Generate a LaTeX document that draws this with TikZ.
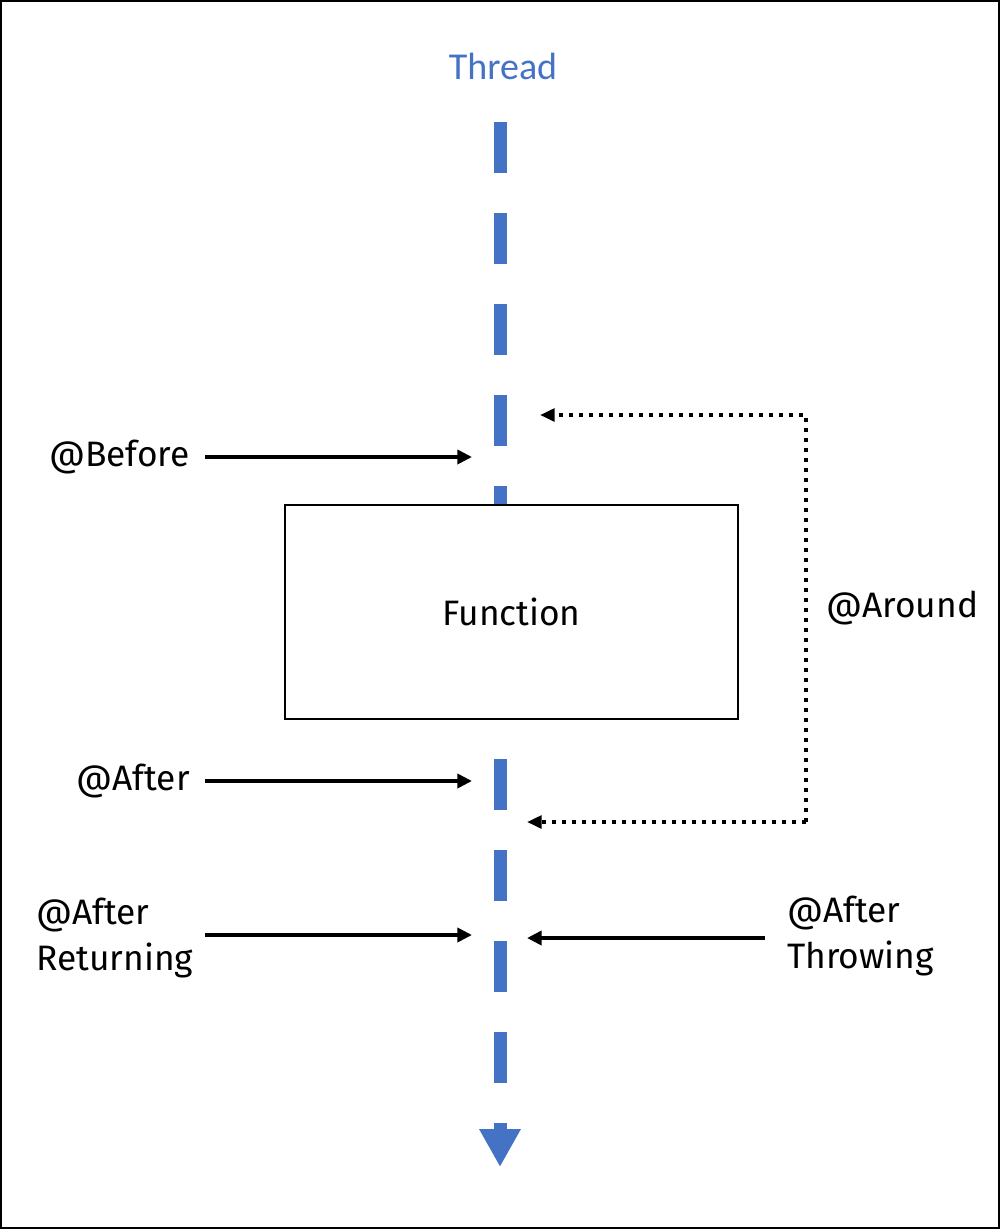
\documentclass[tikz,border=0pt]{standalone}
\usepackage{fontspec}
\setmainfont{Fira Sans}
\newfontfamily\threadfont{Carlito}
\usepackage{xcolor}
\usetikzlibrary{arrows.meta,positioning}
\definecolor{threadblue}{HTML}{4472C4}

\begin{document}
\begin{tikzpicture}[
  x=0.75pt, y=-0.75pt,
  lbl/.style={font=\fontsize{26.5}{34}\selectfont, inner sep=0pt, align=left},
  fn/.style={draw=black, line width=1.5pt, fill=white, minimum width=340pt,
             minimum height=160pt, font=\fontsize{26.5}{30}\selectfont},
  thr/.style={draw=threadblue, line width=9.75pt, dash pattern=on 38.25pt off 30pt,
              -{Triangle[length=28.5pt,width=29.25pt]}},
  arr/.style={-{Triangle[length=11pt,width=10.5pt]}, line width=3.2pt, black},
  dots/.style={-{Triangle[length=11pt,width=9.5pt]}, line width=3.2pt, black,
               dash pattern=on 3.2pt off 4.3pt},
]
\useasboundingbox (0,0) rectangle (1000,1229);
\draw[line width=1.5pt] (1,1) rectangle (999,1228);

% thread
\node[font=\threadfont\fontsize{28.5}{34}\selectfont, text=threadblue] (thread) at (503,66) {Thread};
\coordinate (ttop) at (500,122);
\coordinate (tbot) at (500,1167);
\draw[thr] (ttop) -- (tbot);

\node[fn] (func) at (511.5,612) {Function};

% advice labels
\node[lbl, anchor=east] (before) at (190,457) {@Before};
\node[lbl, anchor=east] (after) at (190,781) {@After};
\node[lbl, anchor=west] (afterret) at (36,938) {@After\\Returning};
\node[lbl, anchor=west] (afterthr) at (787,936) {@After\\Throwing};
\node[lbl, anchor=west] (around) at (826,608) {@Around};

% points on the thread
\coordinate (pbefore) at (472,457);
\coordinate (pafter) at (472,781);
\coordinate (pret) at (472,935);
\coordinate (pthr) at (527,938);
\coordinate (parin) at (540,415);
\coordinate (parout) at (527,822);
\coordinate (arcorner) at (806,415);

\draw[arr] (before.east) ++(15,0) -- (pbefore);
\draw[arr] (after.east) ++(15,0) -- (pafter);
\draw[arr] (205,935) -- (pret);
\draw[arr] (765,938) -- (pthr);
\draw[dots] (806,822) -- (arcorner) -- (parin);
\draw[dots] (806,822) -- (parout);
\end{tikzpicture}
\end{document}
